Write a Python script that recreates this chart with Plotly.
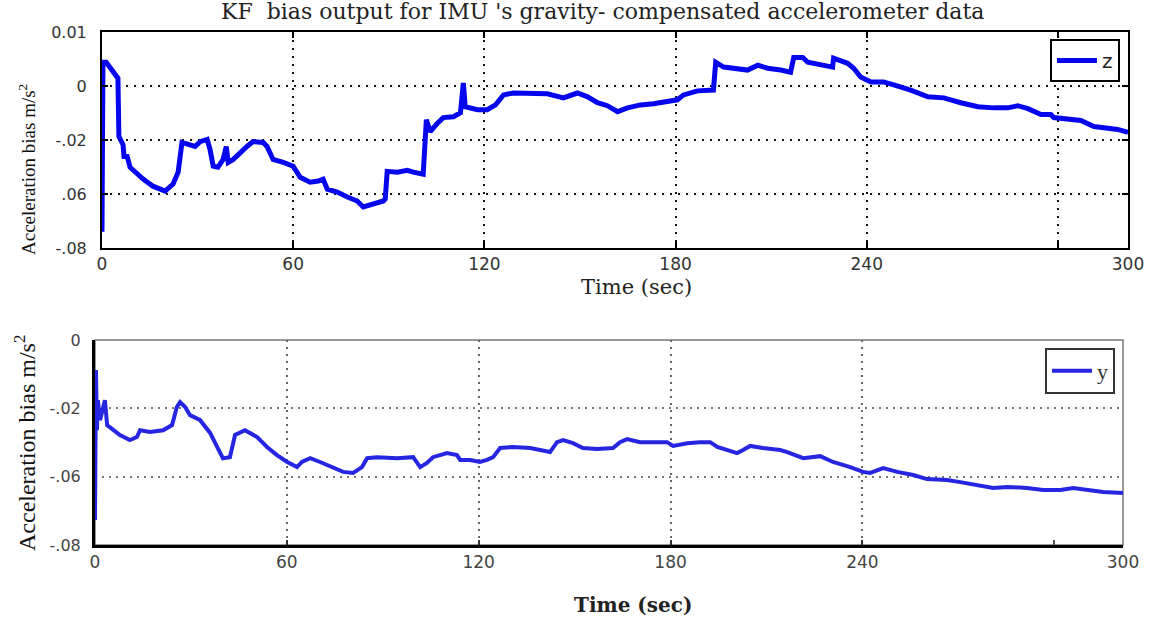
import plotly.graph_objects as go

# ---------------- data ----------------
# top panel: z-axis bias (time in s, bias on the panel's own evenly spaced scale)
top_t = [0, 0.3, 1.3, 2.5, 3.5, 5.0, 5.3, 6.6, 6.9, 7.9,
         8.8, 11.0, 12.9, 16.0, 19.8, 22.3, 23.9, 25.1, 27.6, 29.2,
         30.8, 33.0, 33.9, 34.9, 36.4, 38.0, 39.0, 39.6, 41.2, 43.4,
         45.5, 47.4, 50.6, 51.8, 53.7, 56.9, 60.0, 62.2, 65.3, 67.9,
         69.4, 70.7, 73.8, 77.0, 80.1, 82.0, 85.1, 88.3, 88.9, 89.5,
         92.7, 95.8, 97.7, 100.8, 101.8, 103.0, 105.2, 107.1, 110.3, 112.5,
         113.4, 114.0, 117.8, 120.9, 123.5, 126.0, 129.1, 134.5, 139.8, 144.8,
         149.2, 152.4, 155.5, 158.6, 161.8, 164.9, 169.0, 173.1, 177.5, 180.6,
         182.5, 186.9, 191.9, 192.6, 195.1, 199.5, 202.6, 205.8, 208.9, 213.0,
         216.1, 217.1, 219.9, 221.5, 227.8, 229.3, 229.6, 234.0, 235.9, 238.1,
         241.3, 245.3, 248.5, 253.8, 259.2, 264.2, 269.5, 274.9, 279.9, 284.3,
         287.4, 290.6, 294.7, 297.8, 298.7, 303.1, 307.2, 311.3, 314.5, 318.8,
         322.0]
top_z = [-0.054, 0.0088, 0.0088, 0.0070, 0.0051, 0.0029, -0.0187, -0.0217, -0.0261, -0.0261,
         -0.0301, -0.0327, -0.0345, -0.0371, -0.0389, -0.0363, -0.0319, -0.0209, -0.0217, -0.0224,
         -0.0206, -0.0198, -0.0235, -0.0297, -0.0301, -0.0272, -0.0224, -0.0283, -0.0272, -0.0246,
         -0.0224, -0.0206, -0.0209, -0.0224, -0.0272, -0.0283, -0.0297, -0.0338, -0.0356, -0.0352,
         -0.0345, -0.0382, -0.0393, -0.0411, -0.0426, -0.0448, -0.0437, -0.0426, -0.0418, -0.0316,
         -0.0319, -0.0312, -0.0319, -0.0327, -0.0125, -0.0169, -0.0139, -0.0117, -0.0114, -0.0099,
         0.0011, -0.0077, -0.0088, -0.0088, -0.0070, -0.0033, -0.0026, -0.0026, -0.0029, -0.0044,
         -0.0026, -0.0040, -0.0062, -0.0073, -0.0095, -0.0081, -0.0070, -0.0066, -0.0059, -0.0051,
         -0.0033, -0.0018, -0.0015, 0.0088, 0.0070, 0.0066, 0.0059, 0.0077, 0.0066, 0.0059,
         0.0051, 0.0106, 0.0106, 0.0088, 0.0077, 0.0070, 0.0103, 0.0084, 0.0066, 0.0033,
         0.0015, 0.0015, 0.0004, -0.0015, -0.0040, -0.0044, -0.0062, -0.0077, -0.0081, -0.0081,
         -0.0073, -0.0084, -0.0106, -0.0106, -0.0117, -0.0125, -0.0128, -0.0150, -0.0154, -0.0161,
         -0.0172]

# bottom panel: y-axis bias
bot_t = [0, 0.3, 0.6, 0.9, 1.6, 2.5, 3.1, 3.8, 4.7, 7.8,
         10.9, 13.1, 14.1, 17.2, 21.3, 24.1, 25.6, 26.6, 28.2, 29.7,
         32.8, 36.0, 38.2, 40.0, 42.2, 43.8, 46.9, 50.7, 53.8, 56.9,
         60.1, 63.2, 64.7, 67.3, 70.4, 74.4, 77.6, 80.7, 83.5, 85.1,
         88.2, 94.5, 99.5, 101.7, 103.8, 105.7, 110.1, 113.2, 114.2, 117.3,
         120.4, 122.6, 124.5, 126.7, 130.7, 136.1, 139.2, 142.3, 144.5, 146.4,
         149.5, 152.6, 157.0, 162.0, 164.2, 166.4, 170.5, 174.5, 178.9, 180.8,
         185.2, 189.2, 192.4, 194.6, 197.7, 200.8, 202.7, 204.9, 208.9, 214.3,
         216.5, 221.5, 226.8, 230.8, 236.2, 240.2, 242.4, 246.5, 250.9, 255.9,
         260.2, 266.5, 270.6, 275.9, 280.9, 285.3, 291.5, 296.5, 301.9, 305.9,
         311.2, 315.3, 321.5]
bot_y = [-0.0527, -0.0088, -0.0264, -0.0176, -0.0234, -0.0190, -0.0176, -0.0249, -0.0255, -0.0278,
         -0.0293, -0.0284, -0.0264, -0.0269, -0.0264, -0.0249, -0.0196, -0.0182, -0.0196, -0.0220,
         -0.0234, -0.0272, -0.0313, -0.0346, -0.0343, -0.0278, -0.0264, -0.0284, -0.0313, -0.0337,
         -0.0357, -0.0372, -0.0357, -0.0346, -0.0357, -0.0372, -0.0386, -0.0389, -0.0372, -0.0346,
         -0.0343, -0.0346, -0.0343, -0.0372, -0.0360, -0.0343, -0.0331, -0.0337, -0.0351, -0.0351,
         -0.0357, -0.0351, -0.0343, -0.0316, -0.0313, -0.0316, -0.0322, -0.0328, -0.0299, -0.0293,
         -0.0302, -0.0316, -0.0319, -0.0316, -0.0299, -0.0290, -0.0299, -0.0299, -0.0299, -0.0310,
         -0.0302, -0.0299, -0.0299, -0.0313, -0.0322, -0.0331, -0.0322, -0.0310, -0.0316, -0.0322,
         -0.0328, -0.0346, -0.0340, -0.0357, -0.0372, -0.0386, -0.0389, -0.0375, -0.0386, -0.0395,
         -0.0407, -0.0410, -0.0416, -0.0425, -0.0433, -0.0430, -0.0433, -0.0439, -0.0439, -0.0433,
         -0.0439, -0.0445, -0.0448]

# tick labels (as printed in the reference)
x_tickvals_top = [0, 60, 120, 180, 240, 322]
x_tickvals_bot = [0, 60, 120, 180, 240, 321.5]
x_ticktext = ["0", "60", "120", "180", "240", "300"]
y_tickvals_top = [0.02, 0, -0.02, -0.04, -0.06]
y_ticktext_top = ["0.01", "0", "-.02", ".06", "-.08"]
y_tickvals_bot = [0, -0.02, -0.04, -0.06]
y_ticktext_bot = ["0", "-.02", "-.06", "-.08"]

title_text = "KF  bias output for IMU 's gravity- compensated accelerometer data"
xlabel = "Time (sec)"
ylabel = "Acceleration bias m/s<sup>2</sup>"

W, H = 1152, 619

fig = go.Figure()
fig.add_trace(go.Scatter(x=top_t, y=top_z, mode="lines", name="z",
                         line=dict(color="#0606ee", width=5),
                         xaxis="x", yaxis="y", legend="legend"))
fig.add_trace(go.Scatter(x=bot_t, y=bot_y, mode="lines", name="y",
                         line=dict(color="#2626e2", width=4),
                         xaxis="x2", yaxis="y2", legend="legend2"))

tickfont = dict(family="DejaVu Sans", size=16, color="#333333")
dot_top = "2px,6px"

fig.update_layout(
    width=W, height=H, autosize=False,
    margin=dict(l=0, r=0, t=0, b=0, autoexpand=False),
    paper_bgcolor="white", plot_bgcolor="white",
    showlegend=True,
    xaxis=dict(domain=[102 / W, 1128 / W], anchor="y", range=[0, 322], automargin=False,
               tickmode="array", tickvals=x_tickvals_top, ticktext=x_ticktext,
               showgrid=True, gridcolor="#111111", gridwidth=2, griddash=dot_top,
               showline=True, linecolor="black", linewidth=2, mirror="ticks",
               ticks="inside", ticklen=6, tickwidth=2, tickcolor="black",
               zeroline=False, tickfont=dict(family="DejaVu Sans", size=17, color="#333333"),
               minor=dict(tickmode="array", tickvals=[300], showgrid=True,
                          gridcolor="#111111", gridwidth=2, griddash=dot_top,
                          ticks="inside", ticklen=6, tickwidth=2, tickcolor="black")),
    yaxis=dict(domain=[1 - 248 / H, 1 - 32 / H], anchor="x", range=[-0.06, 0.02], automargin=False,
               tickmode="array", tickvals=y_tickvals_top, ticktext=y_ticktext_top,
               showgrid=True, gridcolor="#111111", gridwidth=2, griddash=dot_top,
               showline=True, linecolor="black", linewidth=2, mirror="ticks",
               ticks="inside", ticklen=6, tickwidth=2, tickcolor="black",
               zeroline=False, tickfont=tickfont, ticklabelstandoff=10),
    xaxis2=dict(domain=[95 / W, 1123 / W], anchor="y2", range=[0, 321.5], automargin=False,
                tickmode="array", tickvals=x_tickvals_bot, ticktext=x_ticktext,
                showgrid=True, gridcolor="#666666", gridwidth=2, griddash="2px,5px",
                showline=True, linecolor="black", linewidth=3,
                ticks="inside", ticklen=5, tickwidth=2, tickcolor="#333333",
                zeroline=False, tickfont=dict(family="DejaVu Sans", size=17, color="#444444"),
                minor=dict(tickmode="array", tickvals=[300], showgrid=False,
                           ticks="inside", ticklen=5, tickwidth=2, tickcolor="#555555")),
    yaxis2=dict(domain=[1 - 545 / H, 1 - 340 / H], anchor="x2", range=[-0.06, 0], automargin=False,
                tickmode="array", tickvals=y_tickvals_bot, ticktext=y_ticktext_bot,
                showgrid=True, gridcolor="#777777", gridwidth=2, griddash="2px,5px",
                showline=True, linecolor="black", linewidth=3,
                ticks="", zeroline=False,
                tickfont=dict(family="DejaVu Sans", size=16, color="#444444"),
                ticklabelstandoff=8),
    legend=dict(x=1120 / W, xanchor="right", y=1 - 39 / H, yanchor="top",
                bgcolor="white", bordercolor="black", borderwidth=2,
                font=dict(family="DejaVu Sans", size=20, color="#222222"),
                itemwidth=40),
    legend2=dict(x=1115 / W, xanchor="right", y=1 - 348 / H, yanchor="top",
                 bgcolor="white", bordercolor="#333333", borderwidth=2,
                 font=dict(family="Liberation Serif", size=22, color="#333333"),
                 itemwidth=40),
    shapes=[dict(type="rect", xref="x2 domain", yref="y2 domain",
                 x0=0, x1=1, y0=0, y1=1, line=dict(color="#777777", width=1.5),
                 layer="below")],
    annotations=[
        dict(text=title_text, x=602 / W, y=1 - 12 / H, xref="paper", yref="paper",
             xanchor="center", yanchor="middle", showarrow=False,
             font=dict(family="DejaVu Serif", size=22, color="#222222")),
        dict(text=xlabel, x=636 / W, y=1 - 287 / H, xref="paper", yref="paper",
             xanchor="center", yanchor="middle", showarrow=False,
             font=dict(family="DejaVu Serif", size=21, color="#222222")),
        dict(text="<b>" + xlabel + "</b>", x=633 / W, y=1 - 605 / H, xref="paper", yref="paper",
             xanchor="center", yanchor="middle", showarrow=False,
             font=dict(family="DejaVu Serif", size=20, color="#222222")),
        dict(text=ylabel, x=27 / W, y=1 - 170 / H, xref="paper", yref="paper",
             xanchor="center", yanchor="middle", showarrow=False, textangle=-90,
             font=dict(family="Liberation Serif", size=19, color="#111111")),
        dict(text=ylabel, x=25 / W, y=1 - 443 / H, xref="paper", yref="paper",
             xanchor="center", yanchor="middle", showarrow=False, textangle=-90,
             font=dict(family="Liberation Serif", size=24, color="#111111")),
    ],
)

fig.write_html(
    "out.html",
    config={"displayModeBar": False},
    post_script="document.body.style.margin='0';document.body.style.padding='0';"
                "document.body.style.overflow='hidden';",
)
